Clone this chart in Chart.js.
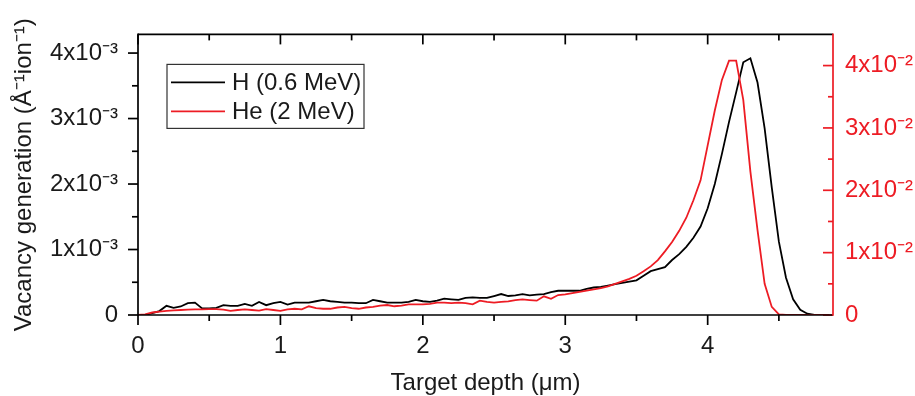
<!DOCTYPE html>
<html><head><meta charset="utf-8">
<script src="https://cdn.jsdelivr.net/npm/chart.js@4.4.1/dist/chart.umd.min.js"></script>
<style>html,body{margin:0;padding:0;background:#fff;overflow:hidden}#wrap{width:915px;height:396px;position:relative}</style>
</head><body><div id="wrap"><canvas id="c" width="915" height="396"></canvas></div>
<script>
// Target depth (µm), one bin every 0.05 µm
const depthUm = [0.00,0.05,0.10,0.15,0.20,0.25,0.30,0.35,0.40,0.45,0.50,0.55,0.60,0.65,0.70,0.75,0.80,0.85,0.90,0.95,
  1.00,1.05,1.10,1.15,1.20,1.25,1.30,1.35,1.40,1.45,1.50,1.55,1.60,1.65,1.70,1.75,1.80,1.85,1.90,1.95,
  2.00,2.05,2.10,2.15,2.20,2.25,2.30,2.35,2.40,2.45,2.50,2.55,2.60,2.65,2.70,2.75,2.80,2.85,2.90,2.95,
  3.00,3.05,3.10,3.15,3.20,3.25,3.30,3.35,3.40,3.45,3.50,3.55,3.60,3.65,3.70,3.75,3.80,3.85,3.90,3.95,
  4.00,4.05,4.10,4.15,4.20,4.25,4.30,4.35,4.40,4.45,4.50,4.55,4.60,4.65,4.70,4.75,4.80,4.85];
// H (0.6 MeV) vacancy generation, Å^-1 ion^-1 (left axis)
const hVacancy = [0,0,0.03e-3,0.06e-3,0.14e-3,0.11e-3,0.13e-3,0.18e-3,0.19e-3,0.10e-3,0.10e-3,0.11e-3,0.15e-3,0.14e-3,0.14e-3,0.17e-3,0.14e-3,0.20e-3,0.15e-3,0.18e-3,
  0.20e-3,0.16e-3,0.19e-3,0.19e-3,0.19e-3,0.21e-3,0.23e-3,0.21e-3,0.20e-3,0.19e-3,0.19e-3,0.18e-3,0.18e-3,0.23e-3,0.21e-3,0.19e-3,0.19e-3,0.19e-3,0.20e-3,0.23e-3,
  0.21e-3,0.20e-3,0.22e-3,0.25e-3,0.24e-3,0.23e-3,0.26e-3,0.27e-3,0.26e-3,0.26e-3,0.29e-3,0.32e-3,0.29e-3,0.30e-3,0.32e-3,0.30e-3,0.31e-3,0.32e-3,0.35e-3,0.37e-3,
  0.37e-3,0.37e-3,0.37e-3,0.40e-3,0.42e-3,0.43e-3,0.45e-3,0.47e-3,0.49e-3,0.51e-3,0.53e-3,0.60e-3,0.67e-3,0.70e-3,0.73e-3,0.84e-3,0.93e-3,1.04e-3,1.18e-3,1.35e-3,
  1.63e-3,2.00e-3,2.46e-3,2.95e-3,3.40e-3,3.86e-3,3.92e-3,3.55e-3,2.85e-3,1.95e-3,1.12e-3,0.57e-3,0.24e-3,0.08e-3,0.02e-3,0,0,0];
// He (2 MeV) vacancy generation, Å^-1 ion^-1 (right axis)
const heVacancy = [0,0.01e-2,0.04e-2,0.055e-2,0.065e-2,0.075e-2,0.08e-2,0.085e-2,0.09e-2,0.09e-2,0.095e-2,0.095e-2,0.085e-2,0.065e-2,0.08e-2,0.09e-2,0.08e-2,0.07e-2,0.095e-2,0.08e-2,
  0.065e-2,0.09e-2,0.10e-2,0.09e-2,0.14e-2,0.11e-2,0.10e-2,0.10e-2,0.12e-2,0.13e-2,0.11e-2,0.10e-2,0.12e-2,0.13e-2,0.15e-2,0.16e-2,0.14e-2,0.15e-2,0.17e-2,0.17e-2,
  0.17e-2,0.18e-2,0.20e-2,0.20e-2,0.19e-2,0.20e-2,0.19e-2,0.17e-2,0.23e-2,0.21e-2,0.20e-2,0.21e-2,0.22e-2,0.24e-2,0.25e-2,0.24e-2,0.23e-2,0.30e-2,0.26e-2,0.32e-2,
  0.33e-2,0.35e-2,0.37e-2,0.39e-2,0.41e-2,0.43e-2,0.46e-2,0.50e-2,0.54e-2,0.58e-2,0.63e-2,0.70e-2,0.78e-2,0.88e-2,1.02e-2,1.17e-2,1.35e-2,1.56e-2,1.84e-2,2.16e-2,
  2.72e-2,3.28e-2,3.77e-2,4.08e-2,4.08e-2,3.45e-2,2.30e-2,1.36e-2,0.50e-2,0.13e-2,0.01e-2,0,0,0,0,0,0,0];
const seriesLabels = ['H (0.6 MeV)', 'He (2 MeV)'];
const xTitle = 'Target depth (\u03BCm)';
const yTitle = 'Vacancy generation (\u00C5\u207B\u00B9ion\u207B\u00B9)';
const xRange = [0, 4.88];
const leftRange = [0, 4.285e-3];
const rightRange = [0, 4.5e-2];

const RED = 'rgb(237,28,36)';
const TXT = '#1a1a1a';
const FONT = {family: '"Liberation Sans", Arial, sans-serif', size: 24};

function toPts(xs, ys) { return xs.map((x, i) => ({x: x, y: ys[i]})); }

function expLabel(v, exp, sup) {
  const n = Math.round(v / Math.pow(10, exp));
  return n === 0 ? '0' : n + 'x10\u207B' + sup;
}

const framePlugin = {
  id: 'frame',
  afterDatasetsDraw(chart) {
    const {ctx, chartArea: a, scales} = chart;
    ctx.save();
    ctx.lineWidth = 1.7;
    ctx.lineCap = 'butt';
    const line = (x1, y1, x2, y2, c) => { ctx.strokeStyle = c; ctx.beginPath(); ctx.moveTo(x1, y1); ctx.lineTo(x2, y2); ctx.stroke(); };
    const tickSet = (s) => {
      const maj = s.ticks.map(t => t.value);
      const step = maj[1] - maj[0];
      const mins = [];
      maj.forEach(v => { const m = v + step / 2; if (m < s.max - 1e-12) mins.push(m); });
      return {maj, mins};
    };
    // x ticks: bottom outward, top inward
    const xs = scales.x, xt = tickSet(xs);
    xt.maj.forEach(v => { const p = xs.getPixelForValue(v); line(p, a.bottom, p, a.bottom + 10, '#000'); line(p, a.top, p, a.top + 10, '#000'); });
    xt.mins.forEach(v => { const p = xs.getPixelForValue(v); line(p, a.bottom, p, a.bottom + 6, '#000'); line(p, a.top, p, a.top + 6, '#000'); });
    // left y ticks outward
    const yl = scales.yL, ylt = tickSet(yl);
    ylt.maj.forEach(v => { const p = yl.getPixelForValue(v); line(a.left - 10, p, a.left, p, '#000'); });
    ylt.mins.forEach(v => { const p = yl.getPixelForValue(v); line(a.left - 6, p, a.left, p, '#000'); });
    // right y ticks inward
    const yr = scales.yR, yrt = tickSet(yr);
    yrt.maj.forEach(v => { const p = yr.getPixelForValue(v); line(a.right - 10, p, a.right, p, RED); });
    yrt.mins.forEach(v => { const p = yr.getPixelForValue(v); line(a.right - 5, p, a.right, p, RED); });
    // frame
    line(a.left, a.top, a.right, a.top, '#000');
    line(a.left, a.bottom, a.right, a.bottom, '#000');
    line(a.left, a.top - 0.85, a.left, a.bottom + 0.85, '#000');
    line(a.right, a.top - 0.85, a.right, a.bottom + 0.85, RED);
    ctx.restore();
  }
};

const legendPlugin = {
  id: 'boxLegend',
  afterDraw(chart) {
    const {ctx, chartArea: a} = chart;
    const bx = a.left + 29, by = a.top + 30, bw = 197, bh = 64, rowH = 29;
    ctx.save();
    ctx.strokeStyle = '#333'; ctx.lineWidth = 1.2;
    ctx.strokeRect(bx, by, bw, bh);
    ctx.font = FONT.size + 'px ' + FONT.family;
    ctx.textBaseline = 'middle'; ctx.textAlign = 'left';
    chart.data.datasets.forEach((ds, i) => {
      const cy = by + 18 + i * rowH;
      ctx.strokeStyle = ds.borderColor; ctx.lineWidth = 1.8;
      ctx.beginPath(); ctx.moveTo(bx + 4, cy); ctx.lineTo(bx + 58, cy); ctx.stroke();
      ctx.fillStyle = TXT;
      ctx.fillText(ds.label, bx + 65, cy + 1);
    });
    ctx.restore();
  }
};

new Chart(document.getElementById('c'), {
  type: 'line',
  data: {
    datasets: [
      {label: seriesLabels[0], data: toPts(depthUm, hVacancy), yAxisID: 'yL', borderColor: '#000', borderWidth: 1.8, pointRadius: 0, tension: 0, order: 1},
      {label: seriesLabels[1], data: toPts(depthUm, heVacancy), yAxisID: 'yR', borderColor: RED, borderWidth: 1.8, pointRadius: 0, tension: 0, order: 0}
    ]
  },
  options: {
    responsive: false, animation: false, devicePixelRatio: 1,
    layout: {padding: {top: 34, left: 0, right: 0, bottom: 0}},
    plugins: {legend: {display: false}, tooltip: {enabled: false}},
    scales: {
      x: {
        type: 'linear', min: xRange[0], max: xRange[1],
        afterFit(s) { s.height = 81; },
        grid: {display: false, drawTicks: false}, border: {display: false},
        ticks: {stepSize: 1, includeBounds: false, padding: 17, maxRotation: 0, font: FONT, color: TXT, callback: v => String(v)},
        title: {display: true, text: xTitle, font: FONT, color: TXT, padding: {top: 0, bottom: -2}}
      },
      yL: {
        type: 'linear', position: 'left', min: leftRange[0], max: leftRange[1],
        afterFit(s) { s.width = 138; },
        grid: {display: false, drawTicks: false}, border: {display: false},
        ticks: {stepSize: 1e-3, includeBounds: false, padding: 20, font: FONT, color: TXT, callback: v => expLabel(v, -3, '\u00B3')},
        title: {display: true, text: yTitle, font: FONT, color: TXT, padding: {top: 10, bottom: 0}}
      },
      yR: {
        type: 'linear', position: 'right', min: rightRange[0], max: rightRange[1],
        afterFit(s) { s.width = 82; },
        grid: {display: false, drawTicks: false}, border: {display: false},
        ticks: {stepSize: 1e-2, includeBounds: false, padding: 12, font: FONT, color: RED, callback: v => expLabel(v, -2, '\u00B2')}
      }
    }
  },
  plugins: [framePlugin, legendPlugin]
});
</script></body></html>
